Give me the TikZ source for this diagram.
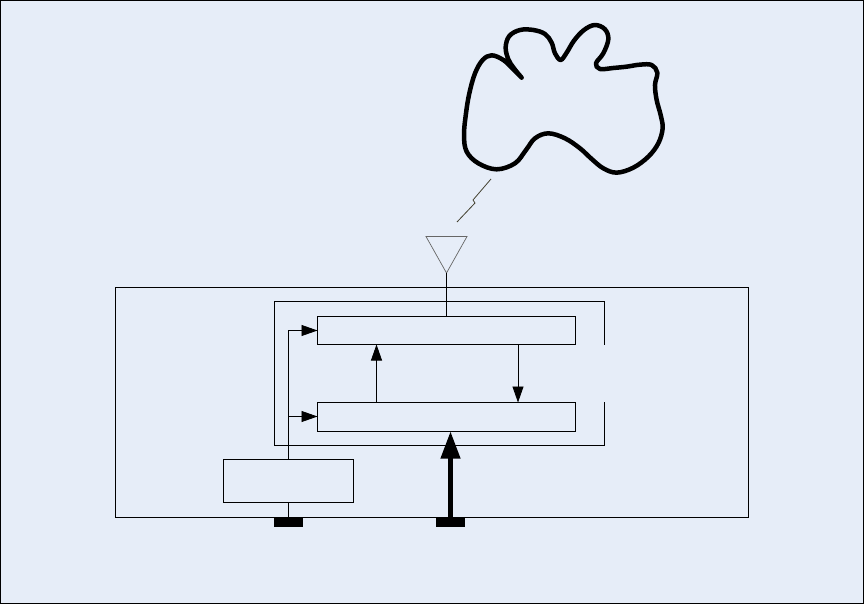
\documentclass[tikz,border=0pt]{standalone}
\usetikzlibrary{arrows.meta}
\definecolor{bgc}{HTML}{E6EDF8}
\tikzset{
  boxn/.style={draw=black,line width=0.8pt,inner sep=0pt,outer sep=0pt,minimum width=#1},
  lin/.style={black,line width=0.8pt},
  arr/.style={lin,-{Triangle[length=16pt,width=11pt]}},
  thick arr/.style={black,line width=4.2pt,-{Triangle[length=27pt,width=19pt]}},
  foot/.style={fill=black,inner sep=0pt,outer sep=0pt,minimum width=29pt,minimum height=9.5pt}
}
\begin{document}
\begin{tikzpicture}[x=1pt,y=-1pt]
\useasboundingbox (0,0) rectangle (864,604);
\fill[bgc] (0,0) rectangle (864,604);
\draw[black,line width=2.4pt] (0,0) rectangle (864,604);
% cloud
\begin{scope}[shift={(440,10)},x=0.3333pt,y=-0.3333pt]
\draw[black,line width=4.5pt,line cap=round,line join=round] plot[smooth,tension=0.6] coordinates {
(245,203) (222,175) (205,148) (197,112) (208,78) (240,60) (280,60) (315,72) (335,98) (345,130) (362,150) (380,128) (402,92) (432,60) (465,45) (495,58) (505,88) (490,130) (468,160) (480,177) (520,174) (560,170) (600,164) (635,165) (652,188) (645,225) (650,270) (662,315) (668,355) (655,400) (625,440) (580,473) (530,488) (490,475) (455,447) (420,415) (375,385) (325,370) (285,385) (258,420) (225,460) (170,478) (115,460) (80,425) (72,375) (78,310) (88,250) (105,190) (128,150) (155,136) (190,150) (220,178) (245,203)};
\end{scope}
% radio link
\coordinate (z1) at (491,179);
\coordinate (z2) at (473,200);
\coordinate (z3) at (475,203);
\coordinate (z4) at (457,222);
\draw[black!70!olive,line width=0.8pt] (z1) -- (z2) -- (z3) -- (z4);
% outer and inner frames
\node[boxn=633pt,minimum height=229.5pt] (outer) at (432,402.25) {};
\coordinate (fr1) at (604.5,344.5);
\coordinate (fr2) at (604.5,301.5);
\coordinate (fr3) at (274.5,301.5);
\coordinate (fr4) at (274.5,445);
\coordinate (fr5) at (604.5,445);
\coordinate (fr6) at (604.5,402);
\draw[lin] (fr1) -- (fr2) -- (fr3) -- (fr4) -- (fr5) -- (fr6);
% boxes
\node[boxn=258pt,minimum height=28pt] (a) at (446.5,330.5) {};
\node[boxn=258pt,minimum height=29pt] (b) at (446.5,417) {};
\node[boxn=130pt,minimum height=43pt] (c) at (288.5,481) {};
% antenna
\coordinate (t1) at (426,236.5);
\coordinate (t2) at (467,236.5);
\coordinate (t3) at (446.5,273);
\draw[gray!80!black,line width=0.7pt,line join=miter] (t1) -- (t2) -- (t3) -- cycle;
\draw[lin] (t3) -- (a.north -| t3);
% connectors
\coordinate (bend) at (288.5,330.5);
\coordinate (tee) at (288.5,416.5);
\draw[arr] (c.north) -- (bend) -- (a.west);
\draw[arr] (tee) -- (tee -| b.west);
\coordinate (u1) at (376.5,402.5);
\coordinate (d1) at (518,344.5);
\draw[arr] (u1) -- (u1 |- a.south);
\draw[arr] (d1) -- (d1 |- b.north);
% feet
\node[foot] (f1) at (288.5,522) {};
\node[foot] (f2) at (450.5,522) {};
\draw[lin] (c.south) -- (f1.north);
\draw[thick arr] (f2.north) -- (f2.north |- b.south);
\end{tikzpicture}
\end{document}
